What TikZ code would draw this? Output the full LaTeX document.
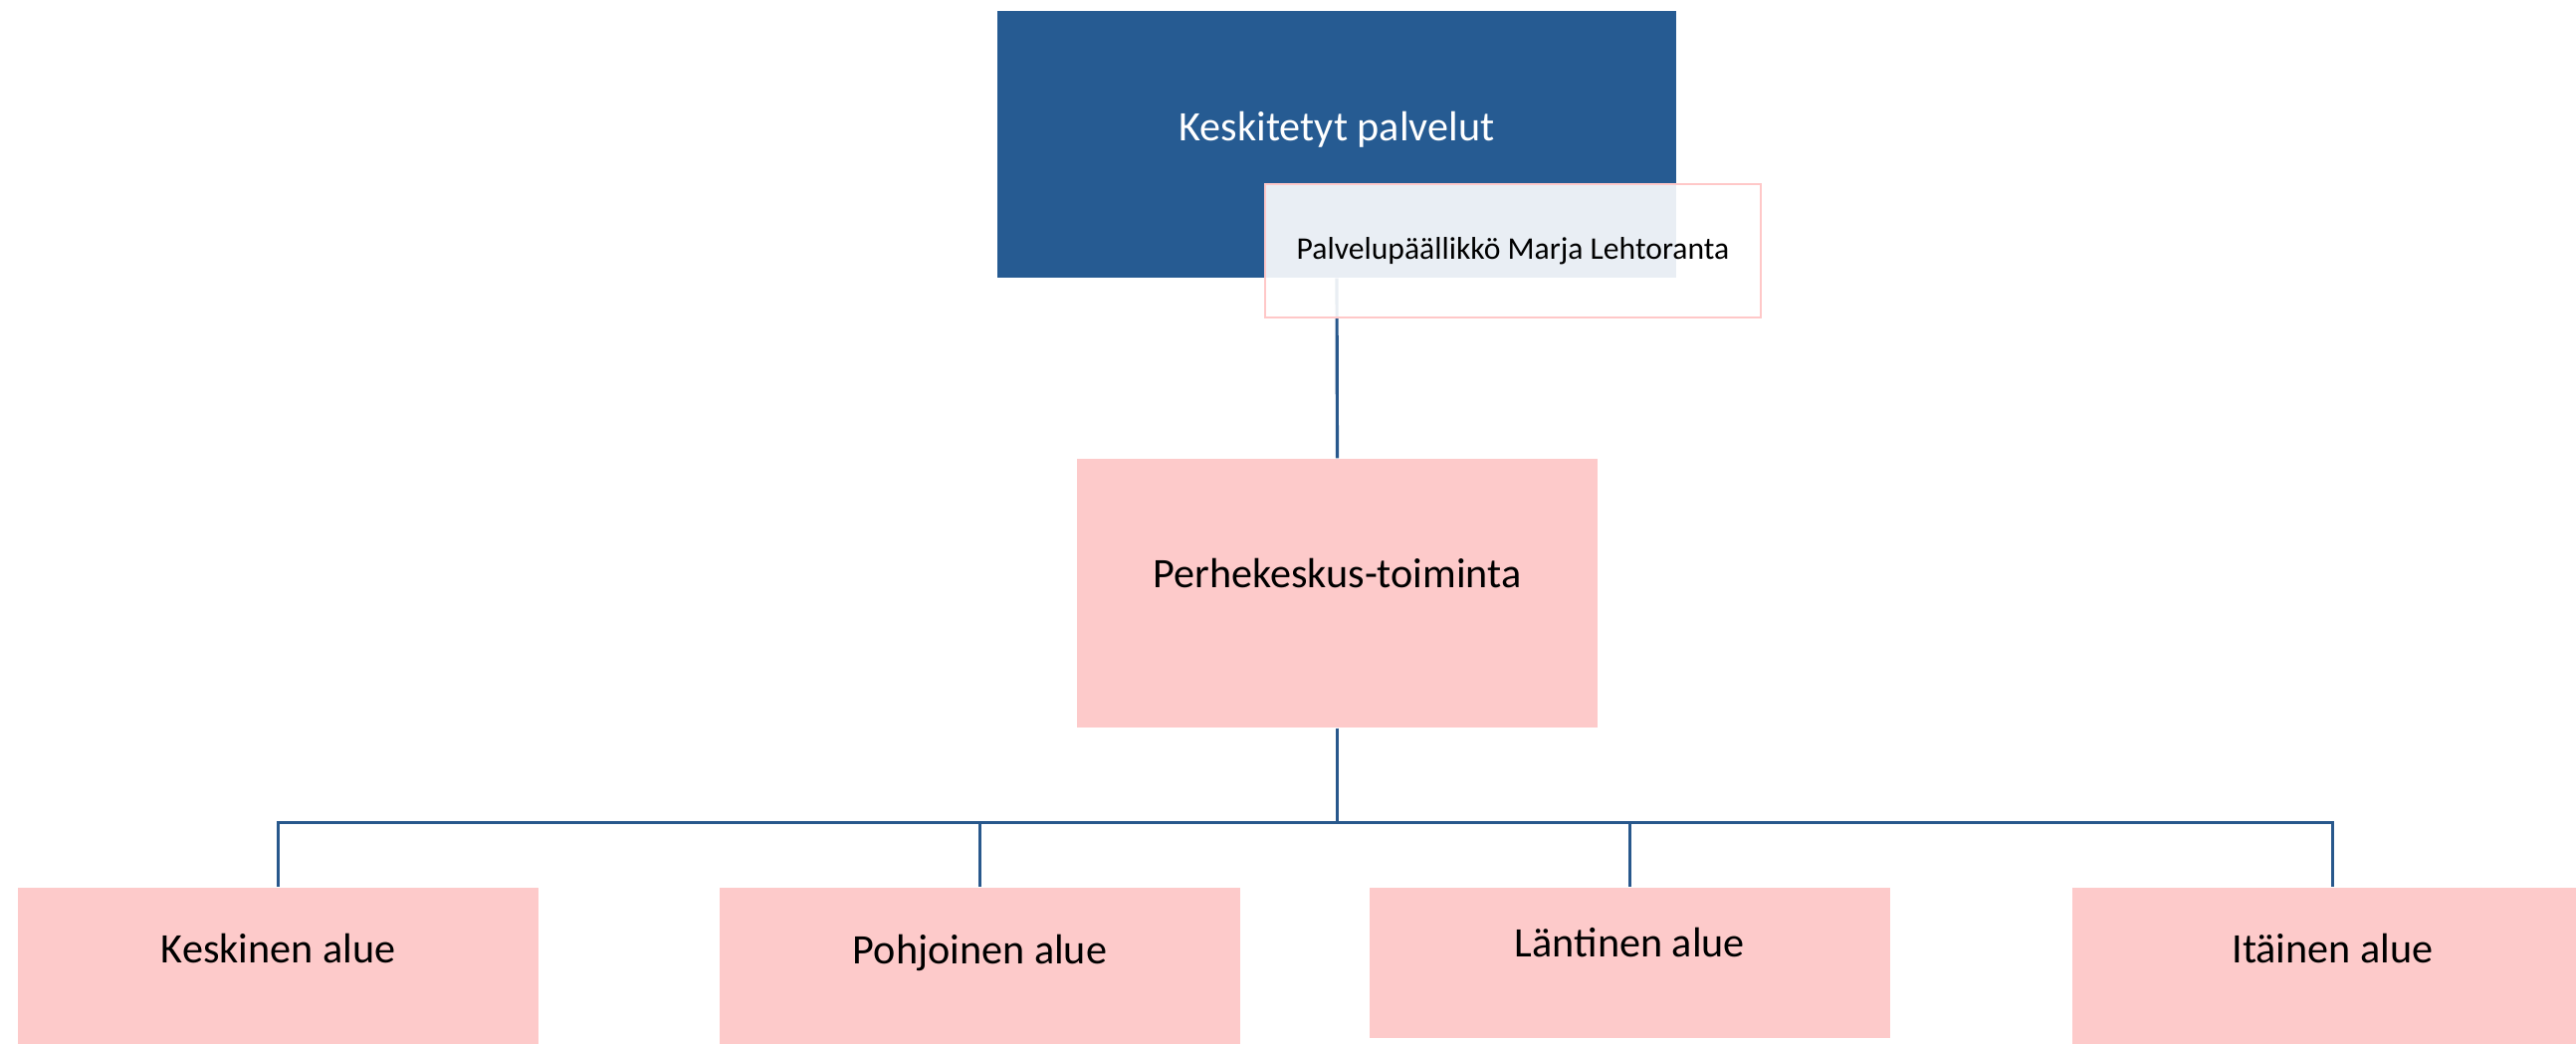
\documentclass[tikz,border=0pt]{standalone}
\usepackage{fontspec}
\setmainfont{Carlito}
\usepackage{tikz}
\usetikzlibrary{ 
  	positioning,
  	calc
  }
\definecolor{ylablue}{RGB}{38,91,146}
\definecolor{ruusu}{RGB}{253,202,202}
\definecolor{viiva}{RGB}{40,88,140}
\definecolor{reuna}{RGB}{255,200,200}
\tikzstyle{ylabox}=[rectangle,fill=ylablue,inner sep=0pt,minimum width=6.82cm,minimum height=2.68cm]
\tikzstyle{alabox}=[rectangle,fill=ruusu,inner sep=0pt,minimum width=5.23cm,minimum height=1.64cm]
\tikzstyle{nimibox}=[rectangle,draw=reuna,line width=0.8pt,fill=white,fill opacity=0.9,text opacity=1,minimum width=4.98cm,minimum height=1.34cm,font=\fontsize{9}{11}\selectfont]
\tikzstyle{yhteys}=[draw=viiva,line width=0.9pt]
\tikzstyle{teksti}=[font=\fontsize{12}{14}\selectfont]

\begin{document}
\begin{tikzpicture}
  \useasboundingbox (0,0) rectangle (25.88,-10.49);
  \node [ylabox] (kesk) at (13.43,-1.45) {};
  \node [teksti,white] (keskt) at ($(kesk)+(0,0.15)$) {Keskitetyt palvelut};
  \node [alabox,minimum height=2.7cm] (perhe) at (13.435,-5.96) {};
  \node [teksti] (perhet) at ($(perhe)+(0,0.2)$) {Perhekeskus-toiminta};
%
  \node [alabox,anchor=north] (kesa) at (2.795,-8.91) {};
  \node [teksti] (kesat) at ($(kesa.north)+(0,-0.625)$) {Keskinen alue};
  \node [alabox,anchor=north] (pohj) at (9.845,-8.91) {};
  \node [teksti] (pohjt) at ($(pohj.north)+(0,-0.66)$) {Pohjoinen alue};
  \node [alabox,anchor=north,minimum height=1.51cm] (lant) at (16.375,-8.91) {};
  \node [teksti] (lantt) at ($(lant.north)+(0,-0.56)$) {Läntinen alue};
  \node [alabox,anchor=north] (itae) at (23.435,-8.91) {};
  \node [teksti] (itaet) at ($(itae.north)+(0,-0.62)$) {Itäinen alue};
%
  \draw [yhteys] (kesk.south) -- (perhe.north);
  \coordinate (haara) at ($(perhe.south)+(0,-0.95)$);
  \draw [yhteys] (perhe.south) -- (haara);
  \draw [yhteys] (kesa.north) |- (haara) -| (itae.north);
  \draw [yhteys] (pohj.north) -- (pohj.north |- haara);
  \draw [yhteys] (lant.north) -- (lant.north |- haara);
%
  \node [nimibox] (pall) at (15.20,-2.52) {Palvelupäällikkö Marja Lehtoranta};
\end{tikzpicture}
\end{document}
